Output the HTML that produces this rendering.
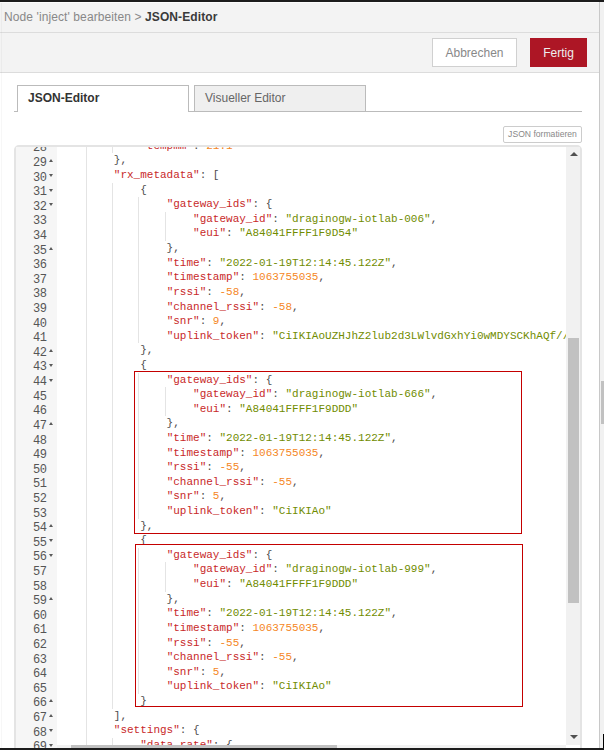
<!DOCTYPE html>
<html><head><meta charset="utf-8">
<style>
*{margin:0;padding:0;box-sizing:border-box}
html,body{width:604px;height:750px;overflow:hidden;background:#f3f3f3;font-family:"Liberation Sans",sans-serif}
.abs{position:absolute}
#topbar{position:absolute;left:0;top:0;width:604px;height:2px;background:#1c1c1c}
#topwhite{position:absolute;left:0;top:2px;width:604px;height:1px;background:#fcfcfc}
#title{position:absolute;left:0;top:3px;width:599px;height:30px;background:#f3f3f3;border-bottom:1px solid #dcdcdc}
#title .t{position:absolute;left:4px;top:7px;font-size:12px;letter-spacing:.1px;color:#888;white-space:nowrap}
#title .t b{color:#3a3a3a}
#btnbar{position:absolute;left:0;top:33px;width:599px;height:40px;background:#f3f3f3;border-bottom:1px solid #dcdcdc}
.btn{position:absolute;font-size:12px;text-align:center;white-space:nowrap}
#cancel{left:432px;top:5px;width:85px;height:29px;background:#fff;border:1px solid #d0d0d0;color:#888;line-height:29px}
#done{left:530px;top:5px;width:57px;height:29px;background:#ad1625;color:#eee;line-height:31px}
#content{position:absolute;left:0;top:73px;width:599px;height:675px;background:#fff}
#leftstrip{position:absolute;left:1px;top:3px;width:1px;height:745px;background:#000;opacity:.03}
#rline{position:absolute;left:599px;top:2px;width:1px;height:746px;background:#c8c8c8}
#outer{position:absolute;left:600px;top:2px;width:4px;height:746px;background:#f1f1f1}
#outerthumb{position:absolute;left:601px;top:381px;width:3px;height:43px;background:#c1c1c1}
#blk{position:absolute;left:603px;top:734px;width:1px;height:14px;background:#000}
#botbar{position:absolute;left:0;top:748px;width:604px;height:2px;background:#1c1c1c}
#tabline{position:absolute;left:14px;top:111px;width:568px;height:1px;background:#bbb}
.tab{position:absolute;top:85px;height:27px;border:1px solid #bbb;border-bottom:none;font-size:12px;white-space:nowrap}
#tab1{left:17px;width:172px;background:#fff;color:#333;font-weight:bold}
#tab2{left:194px;width:172px;height:26px;background:#efefef;color:#666}
.tab span{position:absolute;left:10px;top:5px}
#fmt{position:absolute;left:503px;top:126px;width:79px;height:17px;border:1px solid #ccc;border-radius:2px;background:#fff;font-size:8.6px;color:#888;text-align:center;line-height:15px;white-space:nowrap}
#editor{position:absolute;left:14px;top:145px;width:568px;height:620px;border:2px solid #e4e4e4;border-radius:5px;overflow:hidden;background:#fff}
#gutter{position:absolute;left:16px;top:147px;width:41px;height:601px;background:#f6f6f6}
#codeclip{position:absolute;left:57px;top:147px;width:509px;height:598px;overflow:hidden}
#gutclip{position:absolute;left:16px;top:147px;width:41px;height:601px;overflow:hidden}
.ln{position:absolute;left:61px;height:14.61px;line-height:14.61px;font-family:"Liberation Mono",monospace;font-size:11px;letter-spacing:0px;color:#4d4d4c;white-space:pre}
.ln i{font-style:normal}
.k{color:#c82829}.s{color:#718c00}.n{color:#f5871f}
.gn{position:absolute;left:14.5px;width:32px;text-align:right;height:14.61px;line-height:14.61px;font-family:"Liberation Mono",monospace;font-size:12px;letter-spacing:-0.4px;color:#555}
.fu,.fd{position:absolute;left:49.3px;width:0;height:0;border-left:2.5px solid transparent;border-right:2.5px solid transparent}
.fd{border-top:3px solid #5a5a5a;margin-top:.7px}
.fu{border-bottom:3px solid #5a5a5a}
.ig{position:absolute;width:1px;background:#e4e4e4}
#vscroll{position:absolute;left:566px;top:147px;width:14px;height:598px;background:#f1f1f1}
#vthumb{position:absolute;left:568px;top:338px;width:11px;height:265px;background:#c1c1c1}
#hscroll{position:absolute;left:57px;top:745px;width:509px;height:3px;background:#f1f1f1}
#hthumb{position:absolute;left:71px;top:745px;width:266px;height:3px;background:#c1c1c1}
.arr{position:absolute;left:570px;width:0;height:0;border-left:4px solid transparent;border-right:4px solid transparent}
#aup{top:152px;border-bottom:4px solid #505050}
#adn{top:735px;border-top:4px solid #505050}
.rect{position:absolute;border:1.5px solid #c40000}
</style></head><body>
<div id="topbar"></div>
<div id="title"><div class="t">Node 'inject' bearbeiten &gt; <b>JSON-Editor</b></div></div>
<div id="topwhite"></div>
<div id="btnbar">
  <div class="btn" id="cancel">Abbrechen</div>
  <div class="btn" id="done">Fertig</div>
</div>
<div id="content"></div>

<div id="tabline"></div>
<div class="tab" id="tab1"><span>JSON-Editor</span></div>
<div class="tab" id="tab2"><span>Visueller Editor</span></div>
<div id="fmt">JSON formatieren</div>
<div id="editor"></div>
<div id="gutter"></div>
<div id="gutclip"><div style="position:absolute;left:-16px;top:-147px;width:604px;height:750px">
<div class="gn" style="top:141.30px">28</div>
<div class="gn" style="top:155.91px">29</div>
<div class="fu" style="top:158.91px"></div>
<div class="gn" style="top:170.52px">30</div>
<div class="fd" style="top:173.52px"></div>
<div class="gn" style="top:185.13px">31</div>
<div class="fd" style="top:188.13px"></div>
<div class="gn" style="top:199.74px">32</div>
<div class="fd" style="top:202.74px"></div>
<div class="gn" style="top:214.35px">33</div>
<div class="gn" style="top:228.96px">34</div>
<div class="gn" style="top:243.57px">35</div>
<div class="fu" style="top:246.57px"></div>
<div class="gn" style="top:258.18px">36</div>
<div class="gn" style="top:272.79px">37</div>
<div class="gn" style="top:287.40px">38</div>
<div class="gn" style="top:302.01px">39</div>
<div class="gn" style="top:316.62px">40</div>
<div class="gn" style="top:331.23px">41</div>
<div class="gn" style="top:345.84px">42</div>
<div class="fu" style="top:348.84px"></div>
<div class="gn" style="top:360.45px">43</div>
<div class="fd" style="top:363.45px"></div>
<div class="gn" style="top:375.06px">44</div>
<div class="fd" style="top:378.06px"></div>
<div class="gn" style="top:389.67px">45</div>
<div class="gn" style="top:404.28px">46</div>
<div class="gn" style="top:418.89px">47</div>
<div class="fu" style="top:421.89px"></div>
<div class="gn" style="top:433.50px">48</div>
<div class="gn" style="top:448.11px">49</div>
<div class="gn" style="top:462.72px">50</div>
<div class="gn" style="top:477.33px">51</div>
<div class="gn" style="top:491.94px">52</div>
<div class="gn" style="top:506.55px">53</div>
<div class="gn" style="top:521.16px">54</div>
<div class="fu" style="top:524.16px"></div>
<div class="gn" style="top:535.77px">55</div>
<div class="fd" style="top:538.77px"></div>
<div class="gn" style="top:550.38px">56</div>
<div class="fd" style="top:553.38px"></div>
<div class="gn" style="top:564.99px">57</div>
<div class="gn" style="top:579.60px">58</div>
<div class="gn" style="top:594.21px">59</div>
<div class="fu" style="top:597.21px"></div>
<div class="gn" style="top:608.82px">60</div>
<div class="gn" style="top:623.43px">61</div>
<div class="gn" style="top:638.04px">62</div>
<div class="gn" style="top:652.65px">63</div>
<div class="gn" style="top:667.26px">64</div>
<div class="gn" style="top:681.87px">65</div>
<div class="gn" style="top:696.48px">66</div>
<div class="fu" style="top:699.48px"></div>
<div class="gn" style="top:711.09px">67</div>
<div class="fu" style="top:714.09px"></div>
<div class="gn" style="top:725.70px">68</div>
<div class="fd" style="top:728.70px"></div>
<div class="gn" style="top:740.31px">69</div>
<div class="fd" style="top:743.31px"></div>
</div></div>
<div id="codeclip"><div style="position:absolute;left:-57px;top:-147px;width:604px;height:750px">
<div class="ig" style="left:86.00px;top:138.80px;height:613.62px"></div>
<div class="ig" style="left:112.00px;top:138.80px;height:14.61px"></div>
<div class="ig" style="left:112.00px;top:182.63px;height:525.96px"></div>
<div class="ig" style="left:112.00px;top:737.81px;height:14.61px"></div>
<div class="ig" style="left:138.00px;top:197.24px;height:146.10px"></div>
<div class="ig" style="left:138.00px;top:372.56px;height:146.10px"></div>
<div class="ig" style="left:138.00px;top:547.88px;height:146.10px"></div>
<div class="ig" style="left:165.00px;top:211.85px;height:29.22px"></div>
<div class="ig" style="left:165.00px;top:387.17px;height:29.22px"></div>
<div class="ig" style="left:165.00px;top:562.49px;height:29.22px"></div>
<div class="ln" style="top:138.80px">            <i class="k">&quot;tempmm&quot;</i>: <i class="n">21.1</i></div>
<div class="ln" style="top:153.41px">        },</div>
<div class="ln" style="top:168.02px">        <i class="k">&quot;rx_metadata&quot;</i>: [</div>
<div class="ln" style="top:182.63px">            {</div>
<div class="ln" style="top:197.24px">                <i class="k">&quot;gateway_ids&quot;</i>: {</div>
<div class="ln" style="top:211.85px">                    <i class="k">&quot;gateway_id&quot;</i>: <i class="s">&quot;draginogw-iotlab-006&quot;</i>,</div>
<div class="ln" style="top:226.46px">                    <i class="k">&quot;eui&quot;</i>: <i class="s">&quot;A84041FFFF1F9D54&quot;</i></div>
<div class="ln" style="top:241.07px">                },</div>
<div class="ln" style="top:255.68px">                <i class="k">&quot;time&quot;</i>: <i class="s">&quot;2022-01-19T12:14:45.122Z&quot;</i>,</div>
<div class="ln" style="top:270.29px">                <i class="k">&quot;timestamp&quot;</i>: <i class="n">1063755035</i>,</div>
<div class="ln" style="top:284.90px">                <i class="k">&quot;rssi&quot;</i>: <i class="n">-58</i>,</div>
<div class="ln" style="top:299.51px">                <i class="k">&quot;channel_rssi&quot;</i>: <i class="n">-58</i>,</div>
<div class="ln" style="top:314.12px">                <i class="k">&quot;snr&quot;</i>: <i class="n">9</i>,</div>
<div class="ln" style="top:328.73px">                <i class="k">&quot;uplink_token&quot;</i>: <i class="s">&quot;CiIKIAoUZHJhZ2lub2d3LWlvdGxhYi0wMDYSCKhAQf//8Q==&quot;</i>,</div>
<div class="ln" style="top:343.34px">            },</div>
<div class="ln" style="top:357.95px">            {</div>
<div class="ln" style="top:372.56px">                <i class="k">&quot;gateway_ids&quot;</i>: {</div>
<div class="ln" style="top:387.17px">                    <i class="k">&quot;gateway_id&quot;</i>: <i class="s">&quot;draginogw-iotlab-666&quot;</i>,</div>
<div class="ln" style="top:401.78px">                    <i class="k">&quot;eui&quot;</i>: <i class="s">&quot;A84041FFFF1F9DDD&quot;</i></div>
<div class="ln" style="top:416.39px">                },</div>
<div class="ln" style="top:431.00px">                <i class="k">&quot;time&quot;</i>: <i class="s">&quot;2022-01-19T12:14:45.122Z&quot;</i>,</div>
<div class="ln" style="top:445.61px">                <i class="k">&quot;timestamp&quot;</i>: <i class="n">1063755035</i>,</div>
<div class="ln" style="top:460.22px">                <i class="k">&quot;rssi&quot;</i>: <i class="n">-55</i>,</div>
<div class="ln" style="top:474.83px">                <i class="k">&quot;channel_rssi&quot;</i>: <i class="n">-55</i>,</div>
<div class="ln" style="top:489.44px">                <i class="k">&quot;snr&quot;</i>: <i class="n">5</i>,</div>
<div class="ln" style="top:504.05px">                <i class="k">&quot;uplink_token&quot;</i>: <i class="s">&quot;CiIKIAo&quot;</i></div>
<div class="ln" style="top:518.66px">            },</div>
<div class="ln" style="top:533.27px">            {</div>
<div class="ln" style="top:547.88px">                <i class="k">&quot;gateway_ids&quot;</i>: {</div>
<div class="ln" style="top:562.49px">                    <i class="k">&quot;gateway_id&quot;</i>: <i class="s">&quot;draginogw-iotlab-999&quot;</i>,</div>
<div class="ln" style="top:577.10px">                    <i class="k">&quot;eui&quot;</i>: <i class="s">&quot;A84041FFFF1F9DDD&quot;</i></div>
<div class="ln" style="top:591.71px">                },</div>
<div class="ln" style="top:606.32px">                <i class="k">&quot;time&quot;</i>: <i class="s">&quot;2022-01-19T12:14:45.122Z&quot;</i>,</div>
<div class="ln" style="top:620.93px">                <i class="k">&quot;timestamp&quot;</i>: <i class="n">1063755035</i>,</div>
<div class="ln" style="top:635.54px">                <i class="k">&quot;rssi&quot;</i>: <i class="n">-55</i>,</div>
<div class="ln" style="top:650.15px">                <i class="k">&quot;channel_rssi&quot;</i>: <i class="n">-55</i>,</div>
<div class="ln" style="top:664.76px">                <i class="k">&quot;snr&quot;</i>: <i class="n">5</i>,</div>
<div class="ln" style="top:679.37px">                <i class="k">&quot;uplink_token&quot;</i>: <i class="s">&quot;CiIKIAo&quot;</i></div>
<div class="ln" style="top:693.98px">            }</div>
<div class="ln" style="top:708.59px">        ],</div>
<div class="ln" style="top:723.20px">        <i class="k">&quot;settings&quot;</i>: {</div>
<div class="ln" style="top:737.81px">            <i class="k">&quot;data_rate&quot;</i>: {</div>
</div></div>
<div id="vscroll"></div>
<div id="vthumb"></div>
<div class="arr" id="aup"></div>
<div class="arr" id="adn"></div>
<div id="hscroll"></div>
<div id="hthumb"></div>
<div class="rect" style="left:134px;top:371px;width:388px;height:163px"></div>
<div class="rect" style="left:135px;top:544px;width:388px;height:163px"></div>
<div id="leftstrip"></div>
<div id="rline"></div>
<div id="outer"></div>
<div id="outerthumb"></div>
<div id="blk"></div>
<div id="botbar"></div>
</body></html>
